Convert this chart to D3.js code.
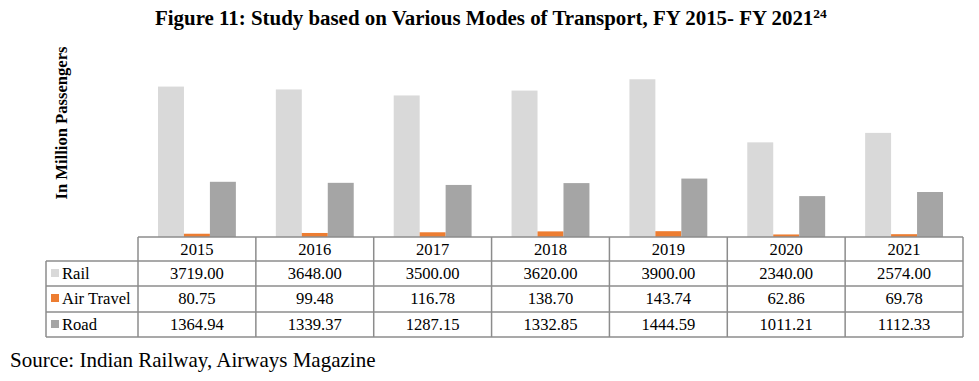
<!DOCTYPE html>
<html><head><meta charset="utf-8">
<script src="https://cdn.jsdelivr.net/npm/d3@7"></script>
<style>body{margin:0;background:#fff}svg{display:block}</style>
</head><body>
<script>
const years = ["2015","2016","2017","2018","2019","2020","2021"];
const seriesNames = ["Rail","Air Travel","Road"];
const rail = [3719.00,3648.00,3500.00,3620.00,3900.00,2340.00,2574.00];
const air = [80.75,99.48,116.78,138.70,143.74,62.86,69.78];
const road = [1364.94,1339.37,1287.15,1332.85,1444.59,1011.21,1112.33];
const colors = ["#d9d9d9","#ed7d31","#a5a5a5"];
const seriesVals = [rail, air, road];

const W=979,H=381;
const svg=d3.select("body").append("svg").attr("width",W).attr("height",H);
const serif="'Liberation Serif','Times New Roman',serif";

// title
const t=svg.append("text").attr("x",155).attr("y",25)
 .attr("font-family",serif).attr("font-weight","bold").attr("font-size",20.9).attr("fill","#000");
t.append("tspan").text("Figure 11: Study based on Various Modes of Transport, FY 2015- FY 2021");
t.append("tspan").attr("dy",-7).attr("font-size",13.5).text("24");

// y label
svg.append("text").attr("transform","translate(67,123) rotate(-90)").attr("text-anchor","middle")
 .attr("font-family",serif).attr("font-weight","bold").attr("font-size",16.6).text("In Million Passengers");

const x0=d3.scaleBand().domain(years).range([138,963]);
const x1=d3.scaleBand().domain(seriesNames).range([0,x0.bandwidth()]).paddingInner(0).paddingOuter(0.77);
const y=d3.scaleLinear().domain([0,4500]).range([237,55]);

const g=svg.append("g");
years.forEach((yr,i)=>{
  seriesNames.forEach((s,j)=>{
    const v=seriesVals[j][i];
    g.append("rect").attr("x",x0(yr)+x1(s)).attr("width",x1.bandwidth())
     .attr("y",y(v)).attr("height",y(0)-y(v)).attr("fill",colors[j]);
  });
});

// data table
const rowTop=237, rowH=[24,25,26,25];
const rowY=[rowTop]; rowH.forEach(h=>rowY.push(rowY[rowY.length-1]+h));
const left=46, right=963, stroke="#8c8c8c";
const tb=svg.append("g").attr("font-family",serif).attr("font-size",16.6).attr("fill","#000");
tb.append("line").attr("x1",138).attr("x2",right).attr("y1",rowY[0]).attr("y2",rowY[0]).attr("stroke",stroke).attr("stroke-width",1.5);
for(let r=1;r<rowY.length;r++){
  tb.append("line").attr("x1",left).attr("x2",right).attr("y1",rowY[r]).attr("y2",rowY[r]).attr("stroke",stroke).attr("stroke-width",1.5);
}
tb.append("line").attr("x1",left).attr("x2",left).attr("y1",rowY[1]).attr("y2",rowY[4]).attr("stroke",stroke).attr("stroke-width",1.5);
years.forEach(yr=>{
  tb.append("line").attr("x1",x0(yr)).attr("x2",x0(yr)).attr("y1",rowY[0]).attr("y2",rowY[4]).attr("stroke",stroke).attr("stroke-width",1.5);
});
tb.append("line").attr("x1",right).attr("x2",right).attr("y1",rowY[0]).attr("y2",rowY[4]).attr("stroke",stroke).attr("stroke-width",1.5);
years.forEach(yr=>{
  tb.append("text").attr("x",x0(yr)+x0.bandwidth()/2).attr("y",rowY[0]+18).attr("text-anchor","middle").text(yr);
});
seriesNames.forEach((s,j)=>{
  const yy=rowY[j+1];
  tb.append("rect").attr("x",51).attr("y",yy+8).attr("width",8).attr("height",8).attr("fill",colors[j]);
  tb.append("text").attr("x",62).attr("y",yy+18).text(s);
  years.forEach((yr,i)=>{
    tb.append("text").attr("x",x0(yr)+x0.bandwidth()/2).attr("y",yy+18).attr("text-anchor","middle")
      .text(seriesVals[j][i].toFixed(2));
  });
});

// source
svg.append("text").attr("x",10).attr("y",367).attr("font-family",serif).attr("font-size",21).text("Source: Indian Railway, Airways Magazine");
</script>
</body></html>
